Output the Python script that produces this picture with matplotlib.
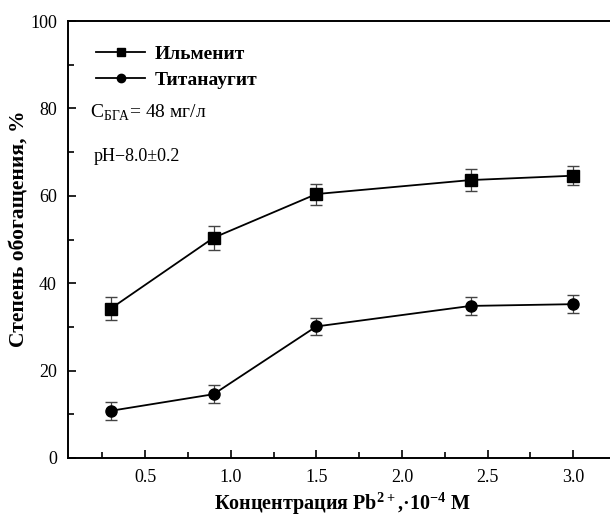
import numpy as np
import matplotlib.pyplot as plt

x = [0.3, 0.9, 1.5, 2.4, 3.0]
ilmenite = [34.2, 50.4, 60.4, 63.6, 64.6]
ilmenite_err = [2.6, 2.7, 2.4, 2.6, 2.2]
titanaugite = [10.8, 14.6, 30.1, 34.8, 35.2]
titanaugite_err = [2.0, 2.0, 1.9, 2.0, 2.0]

plt.rcParams['font.family'] = ['Liberation Serif', 'DejaVu Serif']
plt.rcParams['mathtext.fontset'] = 'custom'
plt.rcParams['mathtext.rm'] = 'Liberation Serif'
plt.rcParams['mathtext.bf'] = 'Liberation Serif:bold'

fig = plt.figure(figsize=(6.1, 5.16), dpi=100)
ax = fig.add_axes([68 / 610, 58 / 516, 1 - 68 / 610 + 0.01, 437 / 516])

# error bars first, then lines with markers (used for the legend)
ax.errorbar(x, ilmenite, yerr=ilmenite_err, fmt='none', elinewidth=0.9, capsize=4, ecolor='#444444')
ax.errorbar(x, titanaugite, yerr=titanaugite_err, fmt='none', elinewidth=0.9, capsize=4, ecolor='#444444')
ax.plot(x, ilmenite, color='black', marker='s', markersize=8, linewidth=1.3, label='Ильменит')
ax.plot(x, titanaugite, color='black', marker='o', markersize=8, linewidth=1.3, label='Титанаугит')

ax.set_xlim(0.05, 3.25)
ax.set_ylim(0, 100)
ax.set_xticks([0.5, 1.0, 1.5, 2.0, 2.5, 3.0])
ax.set_xticks(np.arange(0.25, 3.1, 0.5), minor=True)
ax.set_yticks([0, 20, 40, 60, 80, 100])
ax.set_yticks(np.arange(10, 100, 20), minor=True)
ax.tick_params(direction='in', which='major', length=6, width=1.2, labelsize=13, pad=8)
ax.tick_params(direction='in', which='minor', length=4, width=1.2)
ax.spines['right'].set_visible(False)
for s in ['left', 'bottom', 'top']:
    ax.spines[s].set_linewidth(1.4)

ax.set_ylabel('Степень обогащения, %', fontsize=15.5, fontweight='bold')
ax.yaxis.set_label_coords(-0.07, 0.525)
ax.set_xlabel(r'Концентрация Pb$^{\mathbf{2+}}$,·10$^{\mathbf{-4}}$ M', fontsize=14.5,
              fontweight='bold', labelpad=3)

leg = ax.legend(loc='upper left', bbox_to_anchor=(0.02, 0.985), frameon=False,
                prop={'weight': 'bold', 'size': 14}, handlelength=2.5, handletextpad=0.5,
                labelspacing=0.45, markerscale=0.75)

ax.text(0.18, 79, r'C$_{\mathrm{БГА}}$= 48 мг/л', fontsize=14, va='center')
ax.text(0.2, 69, 'pH−8.0±0.2', fontsize=13, va='center')

fig.savefig('out.png', dpi=100)
